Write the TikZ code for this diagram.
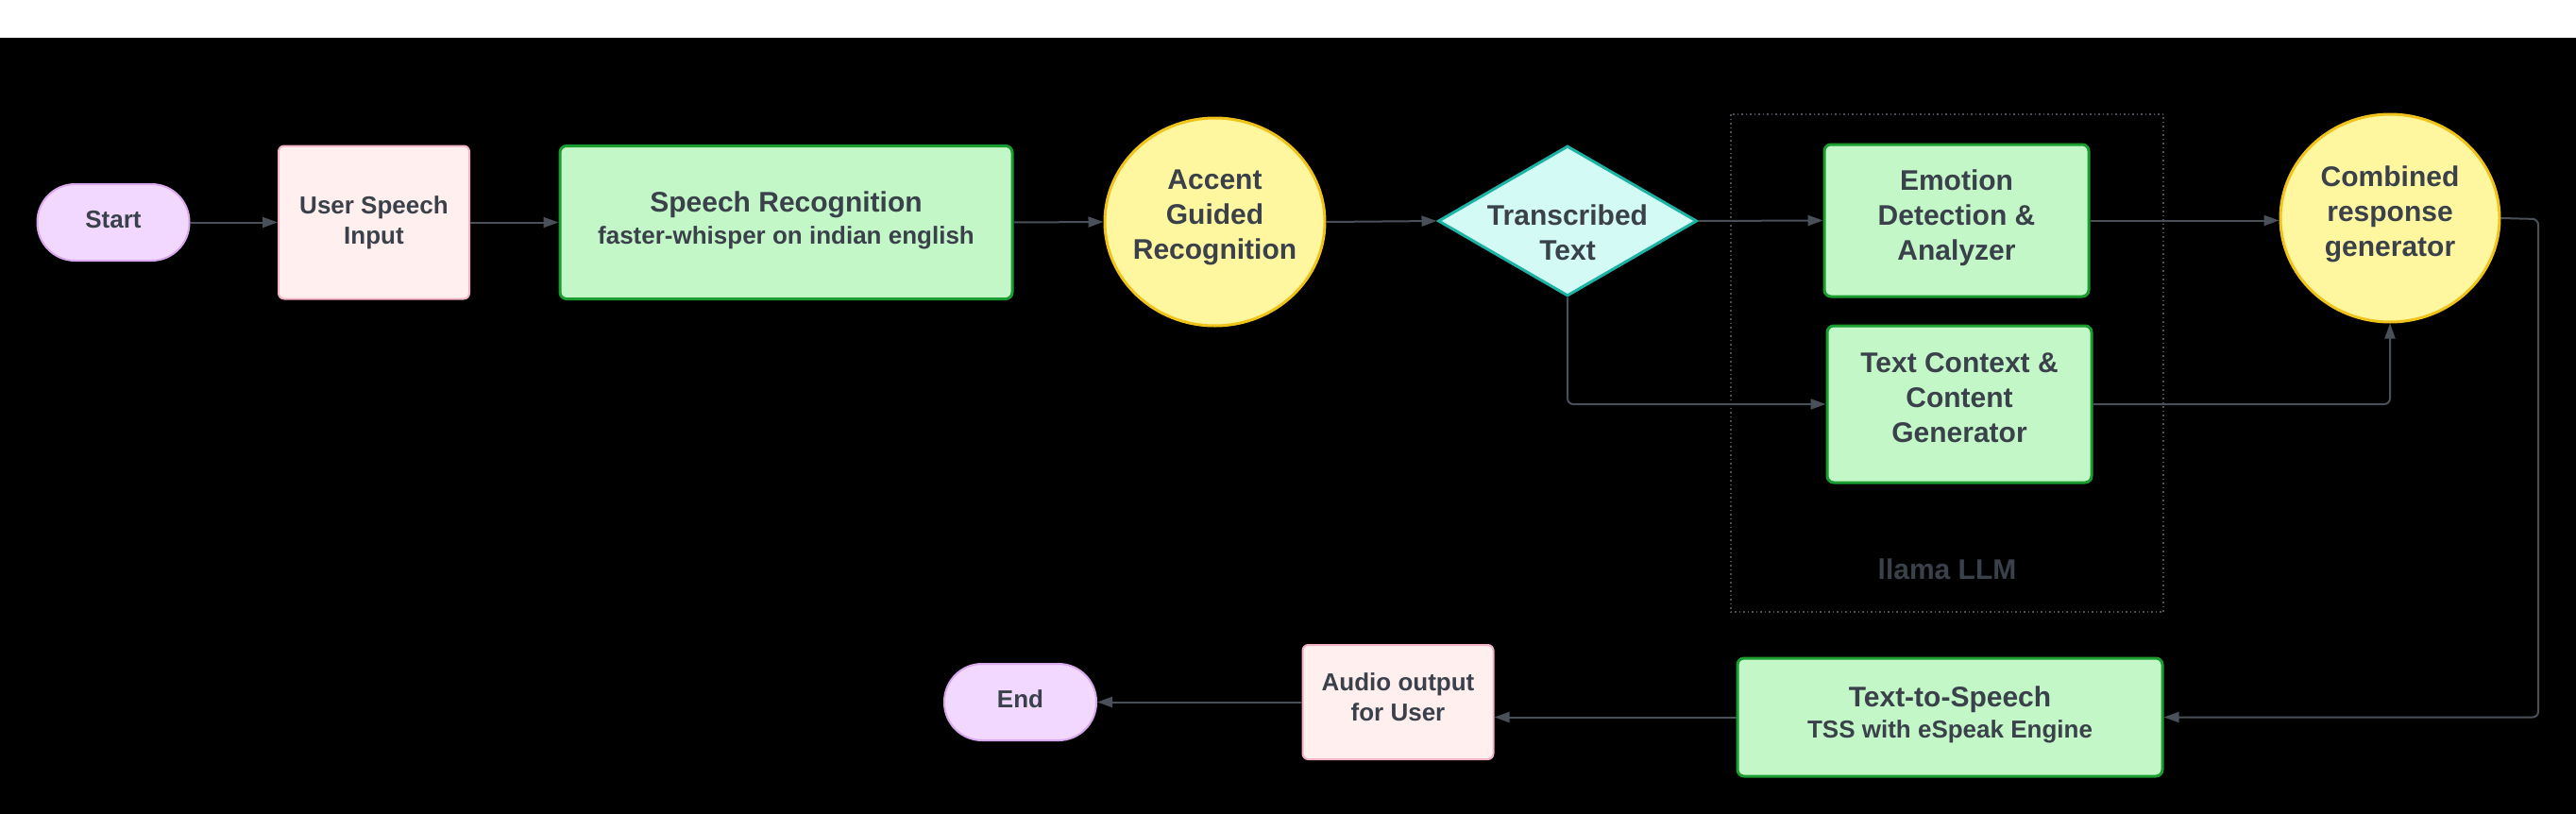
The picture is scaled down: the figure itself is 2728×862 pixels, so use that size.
\documentclass[tikz,border=0pt]{standalone}
\usepackage{fontspec}
\setmainfont{Liberation Sans}
\usetikzlibrary{shapes.geometric,arrows.meta}
\definecolor{txtc}{HTML}{3A414A}
\definecolor{linec}{HTML}{4A5059}
\definecolor{grfill}{HTML}{C3F7C8}
\definecolor{grline}{HTML}{1A9E30}
\definecolor{yefill}{HTML}{FFF6A0}
\definecolor{yeline}{HTML}{EFC31A}
\definecolor{cyfill}{HTML}{D4FAF5}
\definecolor{cyline}{HTML}{1DB3A4}
\definecolor{pufill}{HTML}{F2D8FE}
\definecolor{puline}{HTML}{D8A8EE}
\definecolor{pkfill}{HTML}{FFEFEF}
\definecolor{pkline}{HTML}{F2B4C6}
\definecolor{boxline}{HTML}{4A5059}
\tikzset{
  base/.style={align=center, text=txtc, font=\bfseries\fontsize{30}{37}\selectfont, inner sep=0pt},
  small/.style={base, font=\bfseries\fontsize{26}{32}\selectfont},
  pill/.style={draw=puline, fill=pufill, line width=2pt, rounded corners=40pt, minimum width=161pt, minimum height=81pt, inner sep=0pt},
  pinkbox/.style={draw=pkline, fill=pkfill, line width=2pt, rounded corners=6pt, inner sep=0pt},
  greenbox/.style={draw=grline, fill=grfill, line width=3pt, rounded corners=7pt, inner sep=0pt},
  yellowcirc/.style={draw=yeline, fill=yefill, line width=3pt, ellipse, minimum width=233pt, minimum height=220pt, inner sep=0pt},
  cyandia/.style={draw=cyline, fill=cyfill, line width=3pt, diamond, minimum width=274pt, minimum height=159pt, inner sep=0pt},
  conn/.style={draw=linec, line width=2pt, -{Triangle[length=16pt,width=11pt]}},
}
\begin{document}
\begin{tikzpicture}[x=1pt,y=-1pt]
\useasboundingbox (0,0) rectangle (2728,862);
\fill[white] (0,0) rectangle (2728,39.5);
\fill[black] (0,39.5) rectangle (2728,862);

% container
\draw[boxline, line width=1.5pt, dash pattern=on 1.5pt off 3pt] (1833,121) rectangle (2291,648);
\node[base, anchor=base] (llama) at (2062,613) {llama LLM};

% top row
\node[pill] (start) at (120,235.5) {};
\node[small] (startlab) at (120,232.5) {Start};
\node[pinkbox, minimum width=202pt, minimum height=162pt] (user) at (396,235.5) {};
\node[small] (userlab) at (396,235.5) {User Speech\\Input};
\node[greenbox, minimum width=479pt, minimum height=162pt] (sr) at (832.5,235.5) {};
\node[small, font=\bfseries\fontsize{26}{34}\selectfont] (srlab) at (832.5,233)
  {{\fontsize{30}{34}\selectfont Speech Recognition}\\faster-whisper on indian english};
\node[yellowcirc] (acc) at (1286.5,235) {};
\node[base] (acclab) at (1286.5,230) {Accent\\Guided\\Recognition};
\node[cyandia] (tt) at (1660,234) {};
\node[base] (ttlab) at (1660,246.5) {Transcribed\\Text};
\node[greenbox, minimum width=280pt, minimum height=161pt] (emo) at (2072,233.5) {};
\node[base] (emolab) at (2072,231) {Emotion\\Detection \&\\Analyzer};
\node[greenbox, minimum width=280pt, minimum height=166pt] (tc) at (2075,428) {};
\node[base] (tclab) at (2075,421) {Text Context \&\\Content\\Generator};
\node[yellowcirc, minimum width=232pt] (comb) at (2531,231) {};
\node[base] (comblab) at (2531,227) {Combined\\response\\generator};

% bottom row
\node[greenbox, minimum width=450pt, minimum height=125pt] (tts) at (2065,759.5) {};
\node[small, font=\bfseries\fontsize{26}{33}\selectfont] (ttslab) at (2065,756.5)
  {{\fontsize{30}{33}\selectfont Text-to-Speech}\\TSS with eSpeak Engine};
\node[pinkbox, minimum width=202pt, minimum height=121pt] (audio) at (1480.5,743.5) {};
\node[small] (audiolab) at (1480.5,738.5) {Audio output\\for User};
\node[pill] (end) at (1080.5,743.5) {};
\node[small] (endlab) at (1080.5,740.5) {End};

% connectors
\draw[conn] (start.east) -- (user.west);
\draw[conn] (user.east) -- (sr.west);
\draw[conn] (sr.east) -- (acc.west);
\draw[conn] (acc.east) -- (tt.west);
\draw[conn] (tt.east) -- (emo.west);
\draw[conn, rounded corners=6pt] (tt.south) |- (tc.west);
\draw[conn] (emo.east) -- (emo.east -| comb.west);
\draw[conn, rounded corners=6pt] (tc.east) -| (comb.south);
\coordinate (rt) at (2688,232);
\draw[conn, rounded corners=6pt] (comb.east) -- (rt) |- (tts.east);
\draw[conn] (tts.west) -- (tts.west -| audio.east);
\draw[conn] (audio.west) -- (end.east);
\end{tikzpicture}
\end{document}
